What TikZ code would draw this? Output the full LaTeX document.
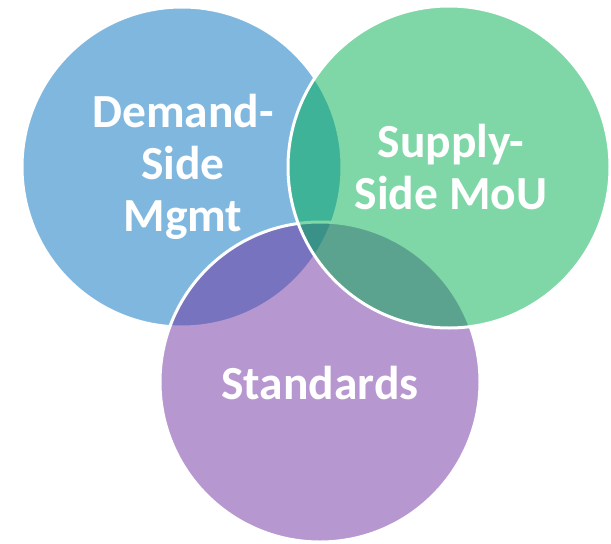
\documentclass[tikz,border=0pt]{standalone}
\usepackage{fontspec}
\setmainfont{Carlito}
\usetikzlibrary{positioning}

\definecolor{demandblue}{HTML}{0070C0}
\definecolor{supplygreen}{HTML}{00B050}
\definecolor{stdpurple}{HTML}{7030A0}

\begin{document}
\begin{tikzpicture}[
    x=1pt, y=-1pt,
    ring/.style={circle, draw=white, line width=3pt, fill opacity=0.5, draw opacity=1, inner sep=0pt},
    label/.style={text=white, align=center, font=\fontsize{47.5}{52}\selectfont\bfseries}
]

\useasboundingbox (0,0) rectangle (611,544);

% Circles (blue first, purple, then green on top)
\node[ring, fill=demandblue, minimum size=320pt] (demand) at (182,167) {};
\node[ring, fill=stdpurple, minimum size=320pt] (standards) at (320,382) {};
\node[ring, fill=supplygreen, minimum size=322pt] (supply) at (449,167) {};

% Labels
\node[label] (demandtxt) at (183,167) {Demand-\\Side\\Mgmt};
\node[label] (supplytxt) at (451,167) {Supply-\\Side MoU};
\node[label] (standardstxt) at (320,383) {Standards};

\end{tikzpicture}
\end{document}
